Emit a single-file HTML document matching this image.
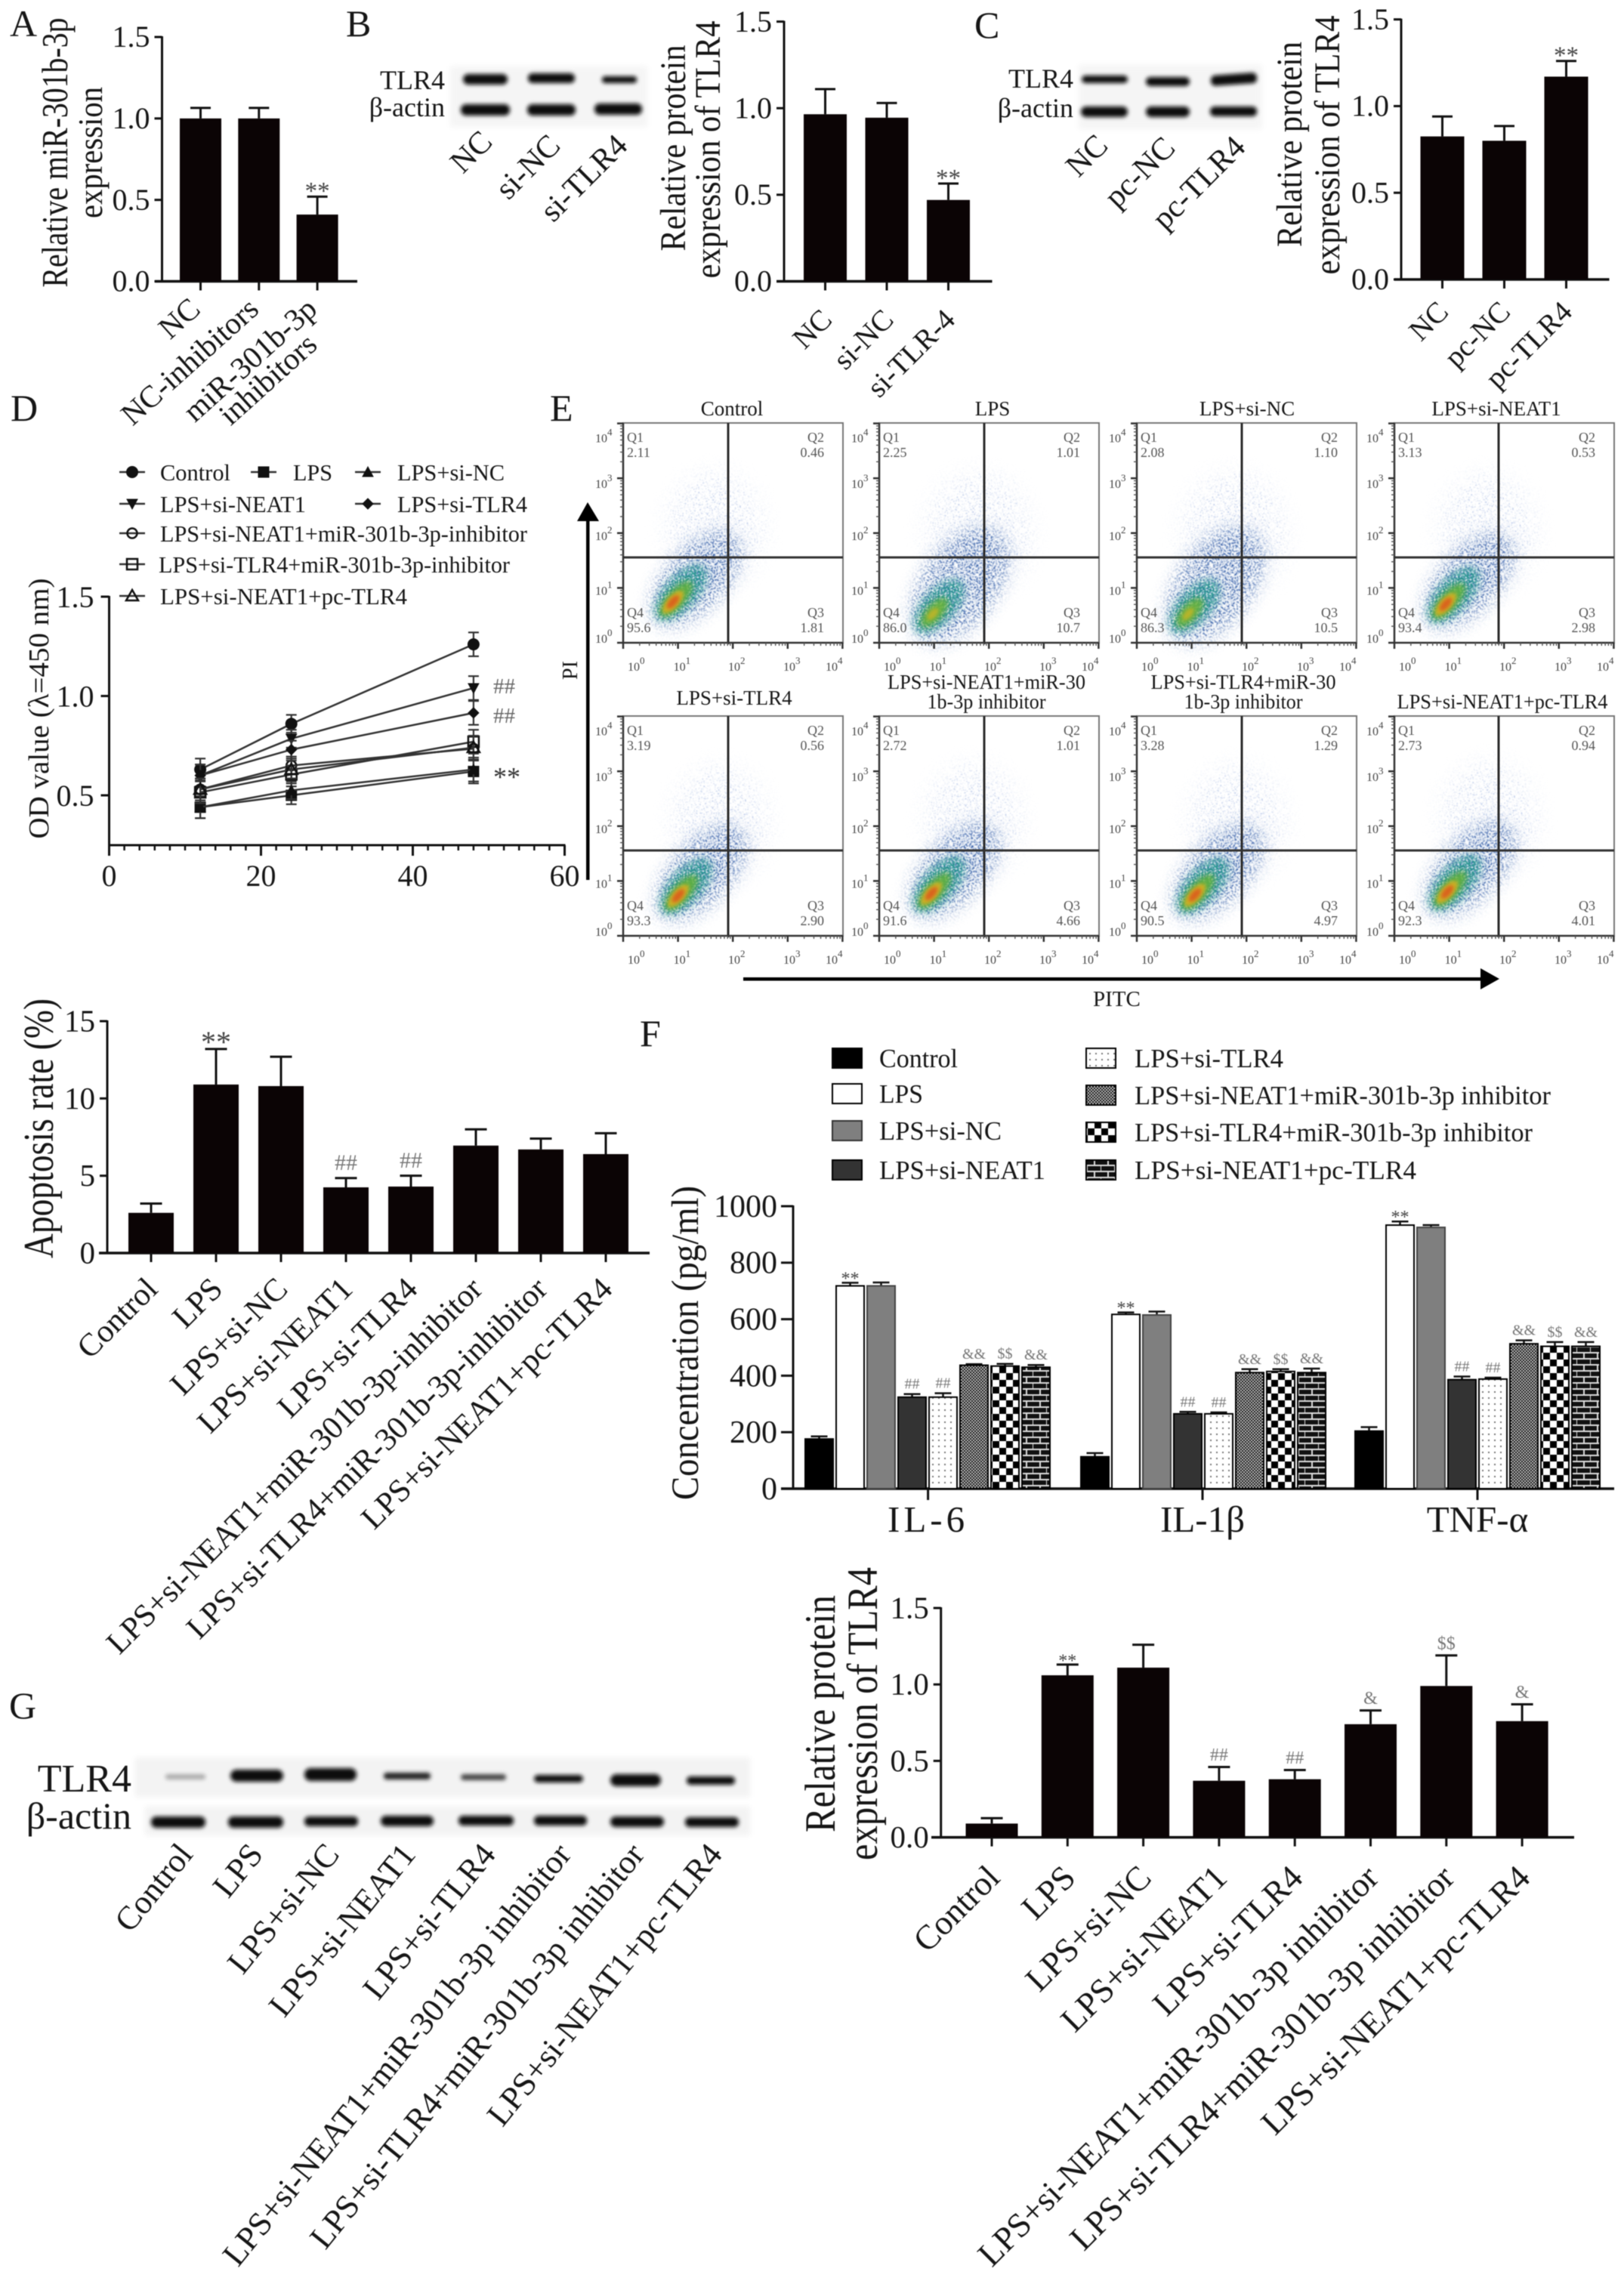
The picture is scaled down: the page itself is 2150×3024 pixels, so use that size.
<!DOCTYPE html>
<html lang="en">
<head>
<meta charset="utf-8">
<title>Multi-panel figure</title>
<style>
html,body{margin:0;padding:0;background:#fff;}
svg{display:block;font-family:"Liberation Serif","Noto Serif CJK SC",serif;filter:blur(0.6px);}
text{fill:#161616;}
</style>
</head>
<body>
<svg id="fig" xmlns="http://www.w3.org/2000/svg" width="2150" height="3024" viewBox="0 0 2150 3024">
<defs>
  <filter id="bandBlur" x="-30%" y="-80%" width="160%" height="260%"><feGaussianBlur stdDeviation="2.6"/></filter>
  <filter id="stripBlur" x="-5%" y="-20%" width="110%" height="140%"><feGaussianBlur stdDeviation="4"/></filter>
  <filter id="speckleDense" x="-40%" y="-40%" width="180%" height="180%">
    <feGaussianBlur in="SourceGraphic" stdDeviation="10" result="b"/>
    <feTurbulence type="fractalNoise" baseFrequency="0.5" numOctaves="2" seed="4" result="n"/>
    <feColorMatrix in="n" type="matrix" values="0 0 0 0 0 0 0 0 0 0 0 0 0 0 0 0 0 0 12 -6.4" result="m"/>
    <feComposite in="b" in2="m" operator="in"/>
    <feGaussianBlur stdDeviation="0.5"/>
  </filter>
  <filter id="speckleCore" x="-40%" y="-40%" width="180%" height="180%">
    <feGaussianBlur in="SourceGraphic" stdDeviation="5" result="b"/>
    <feTurbulence type="fractalNoise" baseFrequency="0.45" numOctaves="2" seed="12" result="n"/>
    <feColorMatrix in="n" type="matrix" values="0 0 0 0 0 0 0 0 0 0 0 0 0 0 0 0 0 0 10 -4.2" result="m"/>
    <feComposite in="b" in2="m" operator="in"/>
    <feGaussianBlur stdDeviation="0.6"/>
  </filter>
  <filter id="speckleSparse" x="-40%" y="-40%" width="180%" height="180%">
    <feGaussianBlur in="SourceGraphic" stdDeviation="16" result="b"/>
    <feTurbulence type="fractalNoise" baseFrequency="0.62" numOctaves="2" seed="9" result="n"/>
    <feColorMatrix in="n" type="matrix" values="0 0 0 0 0 0 0 0 0 0 0 0 0 0 0 0 0 0 14 -8.9" result="m"/>
    <feComposite in="b" in2="m" operator="in"/>
    <feGaussianBlur stdDeviation="0.5"/>
  </filter>
  <filter id="soft5" x="-50%" y="-50%" width="200%" height="200%"><feGaussianBlur stdDeviation="4"/></filter>
  <filter id="soft3" x="-50%" y="-50%" width="200%" height="200%"><feGaussianBlur stdDeviation="2.5"/></filter>
  <pattern id="pat-dots" width="8" height="8" patternUnits="userSpaceOnUse"><rect width="8" height="8" fill="#fff"/><rect x="2" y="2" width="2" height="2" fill="#777"/></pattern>
  <pattern id="pat-cross" width="4" height="4" patternUnits="userSpaceOnUse"><rect width="4" height="4" fill="#c4c4c4"/><rect width="2" height="2" fill="#111"/><rect x="2" y="2" width="2" height="2" fill="#111"/></pattern>
  <pattern id="pat-check" width="18" height="18" patternUnits="userSpaceOnUse"><rect width="18" height="18" fill="#fff"/><rect width="9" height="9" fill="#000"/><rect x="9" y="9" width="9" height="9" fill="#000"/></pattern>
  <pattern id="pat-brick" width="18" height="16" patternUnits="userSpaceOnUse"><rect width="18" height="16" fill="#111"/><rect y="6" width="18" height="2" fill="#ddd"/><rect y="14" width="18" height="2" fill="#ddd"/><rect x="8" width="2" height="6" fill="#ddd"/><rect x="17" y="8" width="2" height="6" fill="#ddd"/></pattern>
  <g id="blob-hot">
    <ellipse cx="55" cy="-95" rx="62" ry="75" fill="#6f8fd0" opacity=".75" filter="url(#speckleSparse)"/>
    <ellipse cx="30" cy="-30" rx="78" ry="40" transform="rotate(-48 30 -30)" fill="#23509f" filter="url(#speckleDense)"/>
    <ellipse cx="10" cy="-12" rx="46" ry="22" transform="rotate(-48 10 -12)" fill="#1c8f8c" filter="url(#speckleCore)"/>
    <ellipse cx="4" cy="-4" rx="30" ry="12" transform="rotate(-48 4 -4)" fill="#62b03c" filter="url(#soft5)" opacity=".9"/>
    <ellipse cx="0" cy="0" rx="19" ry="8" transform="rotate(-48)" fill="#d5b022" filter="url(#soft3)" opacity=".9"/>
    <ellipse cx="0" cy="0" rx="11" ry="5" transform="rotate(-48)" fill="#d9641c" filter="url(#soft3)"/>
  </g>
  <g id="blob-cool">
    <ellipse cx="60" cy="-105" rx="68" ry="80" fill="#6f8fd0" opacity=".75" filter="url(#speckleSparse)"/>
    <ellipse cx="35" cy="-38" rx="88" ry="50" transform="rotate(-55 35 -38)" fill="#23509f" filter="url(#speckleDense)"/>
    <ellipse cx="8" cy="-10" rx="44" ry="22" transform="rotate(-48 8 -10)" fill="#1c8f8c" filter="url(#speckleCore)"/>
    <ellipse cx="2" cy="-2" rx="24" ry="11" transform="rotate(-48 2 -2)" fill="#69b23a" filter="url(#soft5)" opacity=".9"/>
    <ellipse cx="0" cy="0" rx="10" ry="5" transform="rotate(-48)" fill="#b6b42a" filter="url(#soft3)"/>
  </g>
</defs>

<rect width="2150" height="3024" fill="#fff"/>

<!-- Panel letters -->
<g font-size="50">
  <text x="13" y="48">A</text>
  <text x="458" y="48">B</text>
  <text x="1290" y="50">C</text>
  <text x="14" y="557">D</text>
  <text x="728" y="557">E</text>
  <text x="847" y="1385">F</text>
  <text x="12" y="2275">G</text>
</g>

<!-- Y axis titles -->
<g text-anchor="middle" font-size="38">
  <text transform="translate(89,202) rotate(-90) scale(1,1.28)" textLength="357" lengthAdjust="spacingAndGlyphs">Relative miR-301b-3p</text>
  <text transform="translate(135,202) rotate(-90) scale(1,1.2)" textLength="174" lengthAdjust="spacingAndGlyphs">expression</text>
  <text transform="translate(907,196) rotate(-90) scale(1,1.12)" font-size="42.6" textLength="273" lengthAdjust="spacingAndGlyphs">Relative protein</text>
  <text transform="translate(953,198) rotate(-90) scale(1,1.12)" font-size="42.6" textLength="341" lengthAdjust="spacingAndGlyphs">expression of TLR4</text>
  <text transform="translate(1723,191) rotate(-90) scale(1,1.12)" font-size="42.6" textLength="272" lengthAdjust="spacingAndGlyphs">Relative protein</text>
  <text transform="translate(1773,192) rotate(-90) scale(1,1.12)" font-size="42.6" textLength="343" lengthAdjust="spacingAndGlyphs">expression of TLR4</text>
  <text transform="translate(64,938) rotate(-90)" textLength="345" lengthAdjust="spacingAndGlyphs">OD value (λ=450 nm)</text>
  <text transform="translate(70,1494) rotate(-90) scale(1,1.15)" font-size="48.5" textLength="344" lengthAdjust="spacingAndGlyphs">Apoptosis rate (%)</text>
  <text transform="translate(924,1778) rotate(-90) scale(1,1.1)" font-size="46.5" textLength="416" lengthAdjust="spacingAndGlyphs">Concentration (pg/ml)</text>
  <text transform="translate(1105,2269) rotate(-90) scale(1,1.18)" font-size="48.5" textLength="314" lengthAdjust="spacingAndGlyphs">Relative protein</text>
  <text transform="translate(1161,2269) rotate(-90) scale(1,1.18)" font-size="48.5" textLength="388" lengthAdjust="spacingAndGlyphs">expression of TLR4</text>
</g>

<!-- Western blot B -->
<g>
  <rect x="596" y="88" width="261" height="80" fill="#f5f5f5" filter="url(#stripBlur)"/>
  <g fill="#0c0c0c" filter="url(#bandBlur)">
    <rect x="613" y="98" width="59" height="14" rx="7"/>
    <rect x="699" y="97" width="62" height="13" rx="6"/>
    <rect x="797" y="101" width="46" height="9" rx="4"/>
    <rect x="610" y="138" width="65" height="15" rx="7"/>
    <rect x="698" y="138" width="64" height="15" rx="7"/>
    <rect x="787" y="137" width="63" height="15" rx="7"/>
  </g>
  <text x="589" y="118" font-size="36" text-anchor="end">TLR4</text>
  <text x="589" y="154" font-size="36" text-anchor="end">β-actin</text>
  <g font-size="42" text-anchor="end">
    <text transform="translate(654,190) rotate(-45)">NC</text>
    <text transform="translate(744,195) rotate(-45)">si-NC</text>
    <text transform="translate(833,195) rotate(-45)">si-TLR4</text>
  </g>
</g>

<!-- Western blot C -->
<g>
  <rect x="1428" y="86" width="243" height="85" fill="#f5f5f5" filter="url(#stripBlur)"/>
  <g fill="#0c0c0c" filter="url(#bandBlur)">
    <rect x="1432" y="100" width="61" height="10" rx="5"/>
    <rect x="1517" y="102" width="58" height="12" rx="6"/>
    <rect x="1603" y="98" width="61" height="14" rx="6" transform="rotate(-4 1633 105)"/>
    <rect x="1431" y="141" width="62" height="14" rx="7"/>
    <rect x="1517" y="141" width="58" height="14" rx="7"/>
    <rect x="1602" y="141" width="62" height="13" rx="6"/>
  </g>
  <text x="1421" y="116" font-size="36" text-anchor="end">TLR4</text>
  <text x="1421" y="155" font-size="36" text-anchor="end">β-actin</text>
  <g font-size="42" text-anchor="end">
    <text transform="translate(1469,195) rotate(-45)">NC</text>
    <text transform="translate(1558,198) rotate(-45)">pc-NC</text>
    <text transform="translate(1651,197) rotate(-45)">pc-TLR4</text>
  </g>
</g>

<!-- Western blot G -->
<g>
  <rect x="179" y="2327" width="814" height="52" fill="#f3f3f3" filter="url(#stripBlur)"/>
  <rect x="192" y="2392" width="801" height="38" fill="#f3f3f3" filter="url(#stripBlur)"/>
  <g filter="url(#bandBlur)">
    <rect x="219" y="2349" width="53" height="7" rx="3" fill="#aaa"/>
    <rect x="305" y="2343" width="70" height="16" rx="8" fill="#0c0c0c"/>
    <rect x="403" y="2341" width="69" height="17" rx="8" fill="#0c0c0c"/>
    <rect x="508" y="2347" width="62" height="9" rx="4" fill="#222"/>
    <rect x="610" y="2349" width="60" height="8" rx="4" fill="#444"/>
    <rect x="707" y="2350" width="65" height="10" rx="5" fill="#111"/>
    <rect x="808" y="2349" width="67" height="16" rx="8" fill="#0c0c0c"/>
    <rect x="909" y="2352" width="64" height="11" rx="5" fill="#0c0c0c"/>
    <rect x="200" y="2405" width="72" height="15" rx="7" fill="#0c0c0c"/>
    <rect x="302" y="2405" width="73" height="15" rx="7" fill="#0c0c0c"/>
    <rect x="403" y="2405" width="71" height="13" rx="6" fill="#0c0c0c"/>
    <rect x="504" y="2404" width="70" height="14" rx="7" fill="#0c0c0c"/>
    <rect x="607" y="2404" width="73" height="13" rx="6" fill="#0c0c0c"/>
    <rect x="707" y="2404" width="70" height="13" rx="6" fill="#0c0c0c"/>
    <rect x="808" y="2405" width="71" height="14" rx="7" fill="#0c0c0c"/>
    <rect x="907" y="2406" width="71" height="13" rx="6" fill="#0c0c0c"/>
  </g>
  <text x="174" y="2372" font-size="52" text-anchor="end">TLR4</text>
  <text x="174" y="2421" font-size="50" text-anchor="end">β-actin</text>
  <g font-size="44" text-anchor="end">
    <text transform="translate(257,2456) rotate(-51)">Control</text>
    <text transform="translate(350,2456) rotate(-51)">LPS</text>
    <text transform="translate(451,2456) rotate(-51)">LPS+si-NC</text>
    <text transform="translate(552,2456) rotate(-51)">LPS+si-NEAT1</text>
    <text transform="translate(658,2456) rotate(-51)">LPS+si-TLR4</text>
    <text transform="translate(758,2456) rotate(-51)">LPS+si-NEAT1+miR-301b-3p inhibitor</text>
    <text transform="translate(855,2456) rotate(-51)">LPS+si-TLR4+miR-301b-3p inhibitor</text>
    <text transform="translate(958,2456) rotate(-51)">LPS+si-NEAT1+pc-TLR4</text>
  </g>
</g>

<!-- Flow cytometry titles, density clouds and arrows -->
<g text-anchor="middle" font-size="27">
  <text x="969" y="550">Control</text>
  <text x="1314" y="550">LPS</text>
  <text x="1651" y="550">LPS+si-NC</text>
  <text x="1981" y="550">LPS+si-NEAT1</text>
  <text x="972" y="933">LPS+si-TLR4</text>
  <text x="1306" y="912" textLength="262" lengthAdjust="spacingAndGlyphs">LPS+si-NEAT1+miR-30</text>
  <text x="1306" y="938" textLength="157" lengthAdjust="spacingAndGlyphs">1b-3p inhibitor</text>
  <text x="1646" y="912" textLength="245" lengthAdjust="spacingAndGlyphs">LPS+si-TLR4+miR-30</text>
  <text x="1646" y="938" textLength="157" lengthAdjust="spacingAndGlyphs">1b-3p inhibitor</text>
  <text x="1989" y="938" textLength="279" lengthAdjust="spacingAndGlyphs">LPS+si-NEAT1+pc-TLR4</text>
</g>
<g>
  <use href="#blob-hot" transform="translate(891,797)"/>
  <use href="#blob-cool" transform="translate(1235,813)"/>
  <use href="#blob-cool" transform="translate(1573,813)"/>
  <use href="#blob-hot" transform="translate(1914,800)"/>
  <use href="#blob-hot" transform="translate(898,1186)"/>
  <use href="#blob-hot" transform="translate(1233,1183)"/>
  <use href="#blob-hot" transform="translate(1582,1185)"/>
  <use href="#blob-hot" transform="translate(1916,1181)"/>
</g>
<g id="flow-panels"></g>
<g>
  <rect x="776" y="688" width="4.5" height="477" fill="#000"/>
  <polygon points="778,665 793,690 764,690" fill="#000"/>
  <text transform="translate(764,900) rotate(-90)" font-size="28">PI</text>
  <rect x="984" y="1294" width="978" height="4.5" fill="#000"/>
  <polygon points="1985,1296 1960,1282 1960,1310" fill="#000"/>
  <text x="1447" y="1332" font-size="29">PITC</text>
</g>

<!-- Panel F legend -->
<g font-size="35">
  <rect x="1102" y="1388" width="39" height="26" fill="#000" stroke="#000" stroke-width="2"/>
  <text x="1164" y="1413" textLength="104" lengthAdjust="spacingAndGlyphs">Control</text>
  <rect x="1102" y="1435" width="39" height="26" fill="#fff" stroke="#000" stroke-width="2"/>
  <text x="1164" y="1460" textLength="58" lengthAdjust="spacingAndGlyphs">LPS</text>
  <rect x="1102" y="1484" width="39" height="26" fill="#7f7f7f" stroke="#333" stroke-width="2"/>
  <text x="1164" y="1509" textLength="162" lengthAdjust="spacingAndGlyphs">LPS+si-NC</text>
  <rect x="1102" y="1536" width="39" height="26" fill="#333" stroke="#000" stroke-width="2"/>
  <text x="1164" y="1561" textLength="220" lengthAdjust="spacingAndGlyphs">LPS+si-NEAT1</text>
  <rect x="1438" y="1388" width="39" height="26" fill="url(#pat-dots)" stroke="#000" stroke-width="2"/>
  <text x="1502" y="1413" textLength="197" lengthAdjust="spacingAndGlyphs">LPS+si-TLR4</text>
  <rect x="1438" y="1437" width="39" height="26" fill="url(#pat-cross)" stroke="#000" stroke-width="2"/>
  <text x="1502" y="1462" textLength="551" lengthAdjust="spacingAndGlyphs">LPS+si-NEAT1+miR-301b-3p inhibitor</text>
  <rect x="1438" y="1486" width="39" height="26" fill="url(#pat-check)" stroke="#000" stroke-width="2"/>
  <text x="1502" y="1511" textLength="527" lengthAdjust="spacingAndGlyphs">LPS+si-TLR4+miR-301b-3p inhibitor</text>
  <rect x="1438" y="1536" width="39" height="26" fill="url(#pat-brick)" stroke="#000" stroke-width="2"/>
  <text x="1502" y="1561" textLength="373" lengthAdjust="spacingAndGlyphs">LPS+si-NEAT1+pc-TLR4</text>
</g>

<!-- Panel D legend text -->
<g font-size="31">
  <text x="212" y="636" textLength="93" lengthAdjust="spacingAndGlyphs">Control</text>
  <text x="388" y="636" textLength="52" lengthAdjust="spacingAndGlyphs">LPS</text>
  <text x="526" y="636" textLength="142" lengthAdjust="spacingAndGlyphs">LPS+si-NC</text>
  <text x="212" y="678" textLength="193" lengthAdjust="spacingAndGlyphs">LPS+si-NEAT1</text>
  <text x="526" y="678" textLength="172" lengthAdjust="spacingAndGlyphs">LPS+si-TLR4</text>
  <text x="212" y="717" textLength="486" lengthAdjust="spacingAndGlyphs">LPS+si-NEAT1+miR-301b-3p-inhibitor</text>
  <text x="210" y="758" textLength="465" lengthAdjust="spacingAndGlyphs">LPS+si-TLR4+miR-301b-3p-inhibitor</text>
  <text x="212" y="800" textLength="327" lengthAdjust="spacingAndGlyphs">LPS+si-NEAT1+pc-TLR4</text>
</g>

<g id="charts"></g>
</svg>

<script>
// ---------- Data ----------
const aCategories = ['NC', 'NC-inhibitors', 'miR-301b-3p\ninhibitors'];
const aValues = [1.0, 1.0, 0.41];
const aErrors = [0.065, 0.065, 0.11];
const aNotes = ['', '', '**'];

const bCategories = ['NC', 'si-NC', 'si-TLR-4'];
const bValues = [0.965, 0.945, 0.47];
const bErrors = [0.145, 0.085, 0.095];
const bNotes = ['', '', '**'];

const cCategories = ['NC', 'pc-NC', 'pc-TLR4'];
const cValues = [0.825, 0.80, 1.17];
const cErrors = [0.115, 0.085, 0.09];
const cNotes = ['', '', '**'];

const unitTicks = ['0.0', '0.5', '1.0', '1.5'];

const groupNames = ['Control', 'LPS', 'LPS+si-NC', 'LPS+si-NEAT1', 'LPS+si-TLR4', 'LPS+si-NEAT1+miR-301b-3p-inhibitor', 'LPS+si-TLR4+miR-301b-3p-inhibitor', 'LPS+si-NEAT1+pc-TLR4'];
const apoptosisValues = [2.6, 10.9, 10.8, 4.25, 4.3, 6.95, 6.7, 6.4];
const apoptosisErrors = [0.6, 2.3, 1.9, 0.6, 0.7, 1.05, 0.7, 1.35];
const apoptosisNotes = ['', '**', '', '##', '##', '', '', ''];
const apoptosisTicks = ['0', '5', '10', '15'];

const gCategories = ['Control', 'LPS', 'LPS+si-NC', 'LPS+si-NEAT1', 'LPS+si-TLR4', 'LPS+si-NEAT1+miR-301b-3p inhibitor', 'LPS+si-TLR4+miR-301b-3p inhibitor', 'LPS+si-NEAT1+pc-TLR4'];
const gValues = [0.09, 1.06, 1.11, 0.37, 0.38, 0.74, 0.99, 0.76];
const gErrors = [0.035, 0.07, 0.15, 0.09, 0.06, 0.09, 0.20, 0.11];
const gNotes = ['', '**', '', '##', '##', '&', '$$', '&'];

const cytokines = ['IL-6', 'IL-1β', 'TNF-α'];
const cytokineTicks = ['0', '200', '400', '600', '800', '1000'];
const il6Values = [176, 718, 718, 324, 324, 437, 434, 430];
const il6Errors = [9, 11, 12, 11, 14, 4, 8, 8];
const il1Values = [113, 617, 615, 265, 265, 411, 415, 411];
const il1Errors = [13, 7, 12, 7, 5, 12, 8, 14];
const tnfValues = [204, 933, 925, 386, 388, 513, 504, 504];
const tnfErrors = [14, 13, 8, 11, 5, 12, 15, 15];
const il6Notes = ['', '**', '', '##', '##', '&&', '$$', '&&'];
const il1Notes = ['', '**', '', '##', '##', '&&', '$$', '&&'];
const tnfNotes = ['', '**', '', '##', '##', '&&', '$$', '&&'];

const odHours = [12, 24, 48];
const odXTicks = [0, 20, 40, 60];
const odYTicks = [0.5, 1.0, 1.5];
const odControl = [0.63, 0.86, 1.26];
const odLps = [0.44, 0.50, 0.62];
const odSiNc = [0.44, 0.525, 0.63];
const odSiNeat1 = [0.60, 0.785, 1.04];
const odSiTlr4 = [0.60, 0.73, 0.915];
const odNeat1Inh = [0.53, 0.65, 0.735];
const odTlr4Inh = [0.515, 0.605, 0.77];
const odNeat1Pc = [0.53, 0.63, 0.74];
const odError = [0.055, 0.045, 0.06];
const odAnnotations = ['##', '##', '**'];
const odAnnotationValues = [1.047, 0.90, 0.60];

const flowQ1 = ['2.11', '2.25', '2.08', '3.13', '3.19', '2.72', '3.28', '2.73'];
const flowQ2 = ['0.46', '1.01', '1.10', '0.53', '0.56', '1.01', '1.29', '0.94'];
const flowQ3 = ['1.81', '10.7', '10.5', '2.98', '2.90', '4.66', '4.97', '4.01'];
const flowQ4 = ['95.6', '86.0', '86.3', '93.4', '93.3', '91.6', '90.5', '92.3'];
const flowDecades = [0, 1, 2, 3, 4];

// ---------- Helpers ----------
const NS = 'http://www.w3.org/2000/svg';
const root = document.getElementById('charts');
function el(tag, attrs, parent, name) {
  const e = document.createElementNS(NS, tag);
  for (const k in attrs) e.setAttribute(k, attrs[k]);
  
  
  parent.appendChild(e);
  return e;
}
function txt(parent, str, attrs, name) {
  const e = el('text', attrs, parent, name);
  e.textContent = str;
  return e;
}
function line(parent, x1, y1, x2, y2, color, w, name) {
  return el('line', {x1: x1, y1: y1, x2: x2, y2: y2, stroke: color, 'stroke-width': w}, parent, name);
}
function slug(s) { return String(s).toLowerCase().replace(/[^a-z0-9]+/g, '-').replace(/^-|-$/g, ''); }

function drawAxes(g, c) {
  const yOf = v => c.y0 - (v / c.max) * (c.y0 - c.yTop);
  line(g, c.axisX, c.yTop - 1, c.axisX, c.y0 + 1, '#111', 3, 'y-axis-line');
  line(g, c.xStart, c.y0, c.xEnd, c.y0, '#111', 3.5, 'x-axis-line');
  c.ticks.forEach(function (t) {
    const y = yOf(parseFloat(t));
    line(g, c.axisX - (c.tickLen || 10), y, c.axisX, y, '#111', 3, 'y-tick');
    txt(g, t, {x: c.axisX - (c.labelGap || 16), y: y + c.tickSize * 0.33, 'font-size': c.tickSize, 'text-anchor': 'end'}, 'y-tick-label');
  });
  return yOf;
}

function barChart(c) {
  const g = el('g', {}, root, c.name);
  const yOf = drawAxes(g, c);
  c.vals.forEach(function (v, i) {
    const xc = c.firstC + i * c.pitch;
    const top = yOf(v);
    const errTop = yOf(v + c.errs[i]);
    line(g, xc, top, xc, errTop, '#111', 3, 'error-bar');
    line(g, xc - c.cap / 2, errTop, xc + c.cap / 2, errTop, '#111', 3, 'error-cap');
    el('rect', {x: xc - c.barW / 2, y: top, width: c.barW, height: c.y0 - top, fill: '#0b0405'}, g, 'bar-' + slug(c.cats[i]));
    line(g, xc, c.y0, xc, c.y0 + 12, '#111', 3, 'x-tick');
    const parts = c.cats[i].split('\n');
    parts.forEach(function (p, k) {
      txt(g, p, {transform: 'translate(' + (xc + c.catDx) + ',' + (c.y0 + c.catDy + k * 47) + ') rotate(-' + c.catAngle + ')', 'font-size': c.catSize, 'text-anchor': 'end'}, 'x-tick-label');
    });
    const note = c.notes && c.notes[i];
    if (note) {
      const star = note === '**';
      const size = star ? c.noteSize : (c.hashSize || c.noteSize);
      txt(g, note, {x: xc, y: errTop + (star ? 0.1 * size : -0.35 * size), 'font-size': size, 'text-anchor': 'middle', style: 'fill:' + (star ? '#444' : '#777')}, 'significance-mark');
    }
  });
}

// ---------- Bar charts ----------
barChart({name: 'chart-a', axisX: 214.5, xStart: 205, xEnd: 473, y0: 372.5, yTop: 49, max: 1.5, ticks: unitTicks, tickSize: 40,
  firstC: 265.5, pitch: 77.3, barW: 55, cap: 27, cats: aCategories, vals: aValues, errs: aErrors, notes: aNotes, noteSize: 33,
  catDx: 2, catDy: 40, catAngle: 42, catSize: 41});
barChart({name: 'chart-b', axisX: 1038, xStart: 1028, xEnd: 1313.5, y0: 372.5, yTop: 28.6, max: 1.5, ticks: unitTicks, tickSize: 40,
  firstC: 1092.5, pitch: 81.5, barW: 57, cap: 27, cats: bCategories, vals: bValues, errs: bErrors, notes: bNotes, noteSize: 33,
  catDx: 11, catDy: 53, catAngle: 45, catSize: 39});
barChart({name: 'chart-c', axisX: 1855, xStart: 1846, xEnd: 2130.5, y0: 370, yTop: 25.7, max: 1.5, ticks: unitTicks, tickSize: 40,
  firstC: 1909.5, pitch: 82, barW: 58, cap: 27, cats: cCategories, vals: cValues, errs: cErrors, notes: cNotes, noteSize: 33,
  catDx: 10, catDy: 45, catAngle: 45, catSize: 39});
barChart({name: 'chart-apoptosis', axisX: 142, xStart: 131, xEnd: 860, y0: 1659, yTop: 1352, max: 15, ticks: apoptosisTicks, tickSize: 41,
  firstC: 200, pitch: 86, barW: 60, cap: 29, cats: groupNames, vals: apoptosisValues, errs: apoptosisErrors, notes: apoptosisNotes, noteSize: 40, hashSize: 30,
  catDx: 11, catDy: 50, catAngle: 45, catSize: 42.5});
barChart({name: 'chart-g-protein', axisX: 1245.7, xStart: 1233, xEnd: 2084, y0: 2432.6, yTop: 2129, max: 1.5, ticks: unitTicks, tickSize: 41,
  firstC: 1313, pitch: 100.3, barW: 69, cap: 29, cats: gCategories, vals: gValues, errs: gErrors, notes: gNotes, noteSize: 24,
  catDx: 13, catDy: 56, catAngle: 45, catSize: 45.5});

// ---------- Grouped bar chart F ----------
(function () {
  const c = {axisX: 1050, xStart: 1034, xEnd: 2137, y0: 1971, yTop: 1597, max: 1000, ticks: cytokineTicks, tickSize: 42, tickLen: 16, labelGap: 21};
  const g = el('g', {}, root, 'chart-f');
  const yOf = drawAxes(g, c);
  const groupLeft = [1066, 1431, 1794];
  const pitch = 41, barW = 37;
  const fills = ['#000', '#fff', '#7f7f7f', '#333', 'url(#pat-dots)', 'url(#pat-cross)', 'url(#pat-check)', 'url(#pat-brick)'];
  const series = [il6Values, il1Values, tnfValues];
  const errs = [il6Errors, il1Errors, tnfErrors];
  const notes = [il6Notes, il1Notes, tnfNotes];
  const tickX = [1228.6, 1592, 1956];
  series.forEach(function (vals, s) {
    vals.forEach(function (v, j) {
      const xc = groupLeft[s] + barW / 2 + j * pitch;
      const top = yOf(v);
      const errTop = yOf(v + errs[s][j]);
      line(g, xc, top, xc, errTop, '#111', 2.5, 'error-bar');
      line(g, xc - 11, errTop, xc + 11, errTop, '#111', 2.5, 'error-cap');
      el('rect', {x: xc - barW / 2, y: top, width: barW, height: c.y0 - top, fill: fills[j], stroke: j === 2 ? '#444' : '#000', 'stroke-width': 2}, g, 'bar-' + slug(cytokines[s]) + '-' + j);
      const n = notes[s][j];
      if (n) {
        const star = n === '**';
        txt(g, n, {x: xc, y: errTop + (star ? 2 : -7), 'font-size': star ? 24 : 20, 'text-anchor': 'middle', style: 'fill:' + (star ? '#444' : '#777')}, 'significance-mark');
      }
    });
    line(g, tickX[s], c.y0, tickX[s], c.y0 + 15, '#111', 3, 'x-tick');
    const label = txt(g, cytokines[s], {x: tickX[s], y: 2028, 'font-size': 49, 'text-anchor': 'middle'}, 'x-tick-label');
    if (s === 0) label.setAttribute('letter-spacing', '5');
  });
})();

// ---------- Line chart D ----------
(function () {
  const g = el('g', {}, root, 'chart-d');
  const x0 = 144.5, x60 = 747.5, yBase = 1119;
  const xOf = h => x0 + (h / 60) * (x60 - x0);
  const yOf = v => 1053 - (v - 0.5) * 263;
  line(g, x0, yOf(1.5) - 1, x0, yBase + 1, '#111', 3, 'y-axis-line');
  line(g, x0 - 1, yBase, x60 + 1, yBase, '#111', 3, 'x-axis-line');
  odYTicks.forEach(function (t) {
    line(g, x0 - 11, yOf(t), x0, yOf(t), '#111', 3, 'y-tick');
    txt(g, t.toFixed(1), {x: x0 - 20, y: yOf(t) + 14, 'font-size': 40, 'text-anchor': 'end'}, 'y-tick-label');
  });
  for (let h = 0; h <= 60; h += 2) {
    const major = h % 20 === 0;
    line(g, xOf(h), yBase, xOf(h), yBase + (major ? 14 : 7), '#111', major ? 3 : 2.5, major ? 'x-tick' : 'x-minor-tick');
  }
  odXTicks.forEach(function (t) {
    txt(g, String(t), {x: xOf(t), y: 1173, 'font-size': 40, 'text-anchor': 'middle'}, 'x-tick-label');
  });
  function marker(parent, kind, x, y, name) {
    const filled = kind < 5;
    const style = {fill: filled ? '#111' : 'none', stroke: '#111', 'stroke-width': filled ? 1 : 2.5};
    const a = Object.assign({}, style);
    if (kind === 0 || kind === 5) {
      a.cx = x; a.cy = y; a.r = kind === 0 ? 7.5 : 6.5;
      return el('circle', a, parent, name);
    }
    if (kind === 1 || kind === 6) {
      const s = 7;
      a.x = x - s; a.y = y - s; a.width = 2 * s; a.height = 2 * s;
      return el('rect', a, parent, name);
    }
    const shapes = {
      2: [[0, -7], [7, 6], [-7, 6]],
      3: [[0, 7], [7, -6], [-7, -6]],
      4: [[0, -7], [7, 0], [0, 7], [-7, 0]],
      7: [[0, -8], [8, 6], [-8, 6]]
    };
    a.points = shapes[kind].map(p => (x + p[0]) + ',' + (y + p[1])).join(' ');
    return el('polygon', a, parent, name);
  }
  const series = [odControl, odLps, odSiNc, odSiNeat1, odSiTlr4, odNeat1Inh, odTlr4Inh, odNeat1Pc];
  series.forEach(function (vals, s) {
    const sg = el('g', {}, g, 'series-' + slug(groupNames[s]));
    el('polyline', {points: vals.map((v, i) => xOf(odHours[i]) + ',' + yOf(v)).join(' '), fill: 'none', stroke: '#333', 'stroke-width': 2.5}, sg, 'series-line');
    vals.forEach(function (v, i) {
      const x = xOf(odHours[i]);
      line(sg, x, yOf(v - odError[i]), x, yOf(v + odError[i]), '#333', 2.2, 'error-bar');
      line(sg, x - 7, yOf(v + odError[i]), x + 7, yOf(v + odError[i]), '#333', 2.2, 'error-cap');
      line(sg, x - 7, yOf(v - odError[i]), x + 7, yOf(v - odError[i]), '#333', 2.2, 'error-cap');
      marker(sg, s, x, yOf(v), 'data-point');
    });
  });
  odAnnotations.forEach(function (a, i) {
    txt(g, a, {x: 653, y: yOf(odAnnotationValues[i]) + (a === '**' ? 14 : 9), 'font-size': a === '**' ? 36 : 29, style: 'fill:' + (a === '**' ? '#333' : '#666')}, 'significance-mark');
  });
  // legend samples
  const lg = el('g', {}, g, 'legend-samples');
  const legendX = [175, 349, 487, 175, 487, 175, 175, 175];
  const legendY = [625, 625, 625, 667, 667, 706, 747, 789];
  legendX.forEach(function (x, s) {
    line(lg, x - 17, legendY[s], x + 17, legendY[s], '#333', 2.5, 'legend-line');
    marker(lg, s, x, legendY[s], 'legend-marker');
  });
})();

// ---------- Flow panels ----------
(function () {
  const host = document.getElementById('flow-panels');
  const lefts = [825, 1164, 1505, 1846];
  const tops = [560, 948];
  const size = 291, decade = 72.6;
  const vOffset = [139, 139, 139, 138];
  for (let p = 0; p < 8; p++) {
    const L = lefts[p % 4], T = tops[p < 4 ? 0 : 1], B = T + size, R = L + size;
    const g = el('g', {}, host, 'flow-plot-' + (p + 1));
    el('rect', {x: L, y: T, width: size, height: size, fill: 'none', stroke: '#777', 'stroke-width': 2}, g, 'plot-frame');
    line(g, L + vOffset[p % 4], T, L + vOffset[p % 4], B + 2, '#2a2a2a', 3, 'quadrant-vertical');
    line(g, L, T + 178, R, T + 178, '#333', 3, 'quadrant-horizontal');
    line(g, L, B, R, B, '#333', 2.5, 'x-axis-line');
    line(g, L, T, L, B, '#333', 2.5, 'y-axis-line');
    const labelAttrs = {'font-size': 18, style: 'fill:#555'};
    const qa = [['Q1', flowQ1[p], L + 5, 25, 'start'], ['Q2', flowQ2[p], L + 266, 25, 'end'], ['Q4', flowQ4[p], L + 5, 257, 'start'], ['Q3', flowQ3[p], L + 266, 257, 'end']];
    qa.forEach(function (q) {
      txt(g, q[0], Object.assign({x: q[2], y: T + q[3], 'text-anchor': q[4]}, labelAttrs), 'quadrant-name');
      txt(g, q[1], Object.assign({x: q[2], y: T + q[3] + 20, 'text-anchor': q[4]}, labelAttrs), 'quadrant-percent');
    });
    flowDecades.forEach(function (d, i) {
      const tx = L + i * decade, ty = B - i * decade;
      line(g, tx, B, tx, B + 8, '#333', 2.5, 'x-tick');
      line(g, L - 8, ty, L, ty, '#333', 2.5, 'y-tick');
      if (i < 4) {
        [2, 3, 4, 5, 6, 7, 8, 9].forEach(function (m) {
          const off = Math.log10(m) * decade;
          line(g, tx + off, B, tx + off, B + 4, '#555', 1.4, 'x-minor-tick');
          line(g, L - 4, ty - off, L, ty - off, '#555', 1.4, 'y-minor-tick');
        });
      }
      const xStarts = [6, 66.6, 139, 212, 268];
      const yOff = [0, 9, 9, 13, 25];
      const xl = txt(g, '10', {x: L + xStarts[i], y: B + 37, 'font-size': 16, style: 'fill:#444'}, 'x-decade-label');
      const xs = el('tspan', {dy: -9, 'font-size': 13}, xl, 'exponent');
      xs.textContent = String(d);
      const yl = txt(g, '10', {x: L - 37, y: ty + yOff[i], 'font-size': 16, style: 'fill:#444'}, 'y-decade-label');
      const ys = el('tspan', {dy: -9, 'font-size': 13}, yl, 'exponent');
      ys.textContent = String(d);
    });
  }
})();
</script>
</body>
</html>
